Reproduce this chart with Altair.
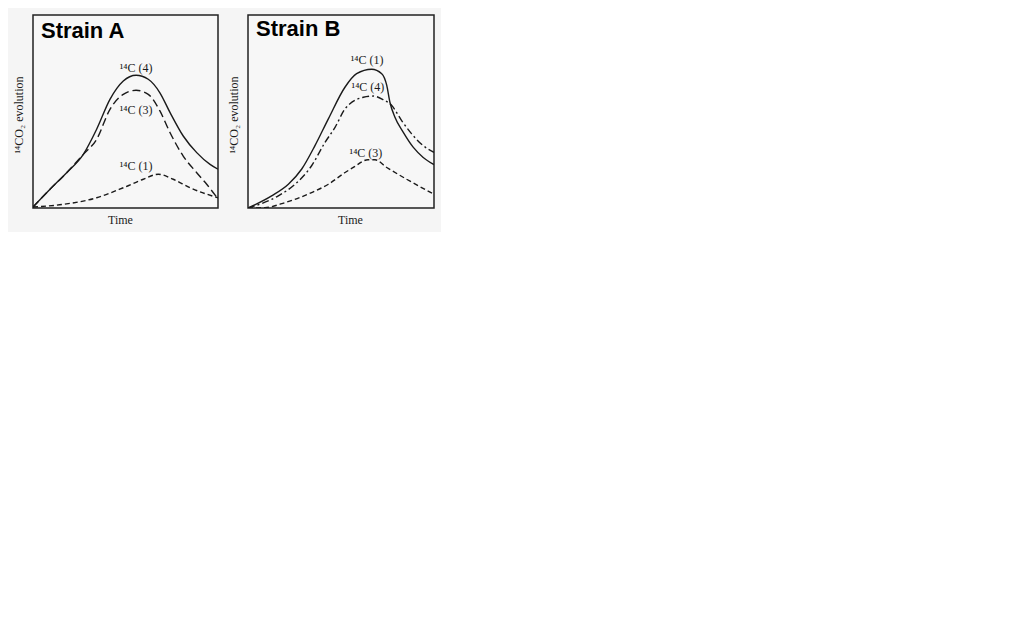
import altair as alt
import pandas as pd

# ---- Strain A curves (time 0-10, relative 14CO2 evolution 0-100) ----
a4_t = [0, 0.92, 1.82, 2.72, 3.44, 4.16, 4.88, 5.57, 6.23, 6.86, 7.41, 8.12, 8.85, 9.57, 10]
a4_y = [0.5, 9.7, 18.3, 27.8, 40.8, 56.3, 65.8, 68.8, 66.7, 59.7, 49.4, 37.3, 28.7, 22.6, 20.1]

a3_t = [0, 0.92, 1.82, 2.72, 3.44, 4.16, 4.88, 5.57, 6.23, 6.86, 7.41, 8.12, 8.85, 9.39, 10]
a3_y = [0.5, 9.7, 18.3, 27.8, 35.6, 51.1, 58.9, 61.0, 58.9, 50.3, 39.0, 26.9, 18.3, 12.3, 4.7]

a1_t = [0, 1.64, 3.44, 4.88, 5.96, 6.77, 7.58, 8.49, 10]
a1_y = [0.5, 1.9, 5.3, 10.5, 14.9, 17.5, 14.9, 10.5, 5.3]

# ---- Strain B curves ----
b1_t = [0, 1.27, 2.17, 2.89, 3.60, 4.32, 5.22, 5.84, 6.65, 7.19, 7.46, 7.63, 7.90, 8.35, 8.89, 9.42, 10]
b1_y = [0, 6.3, 12.3, 20.2, 32.3, 46.2, 62.7, 69.6, 71.9, 69.6, 63.5, 54.8, 47.0, 39.2, 31.4, 26.2, 22.5]

b4_t = [0, 1.63, 2.53, 3.42, 4.14, 4.68, 5.22, 5.48, 6.20, 6.74, 7.27, 7.73, 8.26, 8.80, 9.42, 10]
b4_y = [0, 6.3, 12.3, 21.9, 34.0, 41.8, 51.4, 54.0, 57.4, 58.0, 56.1, 53.1, 45.3, 38.4, 32.3, 28.8]

b3_t = [0, 0.91, 1.99, 3.42, 4.32, 5.22, 5.66, 6.45, 6.83, 7.46, 8.53, 10]
b3_y = [0, 0.2, 2.8, 8.0, 12.3, 18.4, 21.0, 25.0, 25.0, 21.0, 14.9, 7.1]

# ---- curve labels ----
a_lab_text = ["¹⁴C (4)", "¹⁴C (3)", "¹⁴C (1)"]
a_lab_t = [5.57, 5.57, 5.57]
a_lab_y = [72.5, 50.8, 21.8]

b_lab_text = ["¹⁴C (1)", "¹⁴C (4)", "¹⁴C (3)"]
b_lab_t = [6.40, 6.45, 6.34]
b_lab_y = [76.6, 62.5, 28.6]

# ---- panel names ----
a_name, a_name_t, a_name_y = "Strain A", 0.43, 88.2
b_name, b_name_t, b_name_y = "Strain B", 0.43, 89.1

X_TITLE = "Time"
Y_TITLE = "¹⁴CO₂ evolution"
INK = "#1a1a1a"


def panel(curves, lab_text, lab_t, lab_y, name, name_t, name_y, width, height, time_x):
    x_enc = alt.X("t:Q", scale=alt.Scale(domain=[0, 10], nice=False, zero=False),
                  axis=alt.Axis(title=X_TITLE, labels=False, ticks=False, domain=False, grid=False,
                                titleX=time_x, titleY=15, titleBaseline="alphabetic",
                                titleFont="Liberation Serif", titleFontSize=12,
                                titleFontWeight="normal", titleColor=INK))
    y_enc = alt.Y("y:Q", scale=alt.Scale(domain=[0, 100], nice=False, zero=False),
                  axis=alt.Axis(title=Y_TITLE, labels=False, ticks=False, domain=False, grid=False,
                                titleX=-8, titleY=height / 2 + 3, titleBaseline="bottom",
                                titleAngle=270, titleAlign="center",
                                titleFont="Liberation Serif", titleFontSize=12,
                                titleFontWeight="normal", titleColor=INK))
    layers = []
    for ts, ys, dash in curves:
        df = pd.DataFrame({"t": ts, "y": ys})
        kw = dict(color=INK, strokeWidth=1.4, interpolate="monotone", clip=True)
        if dash:
            kw["strokeDash"] = dash
        layers.append(alt.Chart(df).mark_line(**kw).encode(x=x_enc, y=y_enc))
    lab_df = pd.DataFrame({"t": lab_t, "y": lab_y, "label": lab_text})
    layers.append(
        alt.Chart(lab_df).mark_text(font="Liberation Serif", fontSize=12, color=INK,
                                    align="center", baseline="middle")
        .encode(x=x_enc, y=y_enc, text="label:N")
    )
    name_df = pd.DataFrame({"t": [name_t], "y": [name_y], "label": [name]})
    layers.append(
        alt.Chart(name_df).mark_text(font="Liberation Sans", fontSize=22, fontWeight="bold",
                                     color="#000000", align="left", baseline="alphabetic")
        .encode(x=x_enc, y=y_enc, text="label:N")
    )
    return alt.layer(*layers).properties(width=width, height=height)


panel_a = panel(
    [(a4_t, a4_y, None), (a3_t, a3_y, [8, 4]), (a1_t, a1_y, [5, 3])],
    a_lab_text, a_lab_t, a_lab_y, a_name, a_name_t, a_name_y, 185, 193, 87,
)
panel_b = panel(
    [(b1_t, b1_y, None), (b4_t, b4_y, [7, 3, 2, 3]), (b3_t, b3_y, [5, 3])],
    b_lab_text, b_lab_t, b_lab_y, b_name, b_name_t, b_name_y, 186, 193, 102,
)

chart = (
    alt.hconcat(panel_a, panel_b, spacing=7)
    .properties(padding={"left": 3, "top": 6, "right": 6, "bottom": 6}, background="#f5f5f5")
    .configure_view(stroke="#222222", strokeWidth=1.5, fill="#f7f7f7")
)

chart.save("out.html", embed_options={"renderer": "svg", "actions": False})
